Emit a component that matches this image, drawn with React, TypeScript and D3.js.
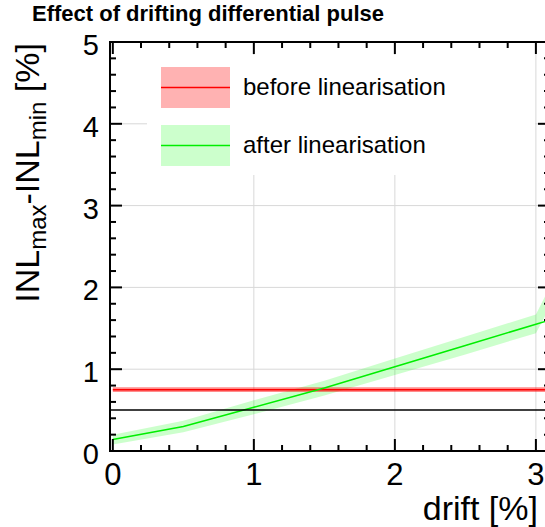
import * as d3 from "d3";

// drift [%] sample points
const drift = [0, 0.5, 1, 1.5, 2, 2.5, 3, 3.1];
// before linearisation (flat)
const beforeValues = [0.75, 0.75, 0.75, 0.75, 0.75, 0.75, 0.75, 0.75];
const beforeLow = [0.72, 0.72, 0.72, 0.72, 0.72, 0.72, 0.72, 0.72];
const beforeHigh = [0.78, 0.78, 0.78, 0.78, 0.78, 0.78, 0.78, 0.78];
// after linearisation
const afterValues = [0.14, 0.3, 0.535, 0.77, 1.03, 1.29, 1.55, 1.6];
const afterLow = [0.08, 0.23, 0.45, 0.68, 0.93, 1.18, 1.44, 1.76];
const afterHigh = [0.2, 0.37, 0.62, 0.86, 1.13, 1.4, 1.67, 2.01];
// reference level
const refLevel = 0.5;

const xTicks = [0, 1, 2, 3];
const yTicks = [0, 1, 2, 3, 4, 5];

const W = 545;
const H = 527;
const frame = { left: 110, right: 550, top: 42, bottom: 451 };
const font = "Liberation Sans, Arial, Helvetica, sans-serif";

const App = () => {
  const x = d3.scaleLinear().domain([-0.02, 3.1]).range([frame.left, frame.right]);
  const y = d3.scaleLinear().domain([0, 5]).range([frame.bottom, frame.top]);

  const band = (lo: number[], hi: number[]) =>
    d3
      .area<number>()
      .x((_, i) => x(drift[i]))
      .y0((_, i) => y(lo[i]))
      .y1((_, i) => y(hi[i]))(drift) ?? "";
  const line = (vals: number[]) =>
    d3
      .line<number>()
      .x((_, i) => x(drift[i]))
      .y((_, i) => y(vals[i]))(drift) ?? "";

  // minor ticks every 0.2
  const xMinor = d3.range(0, 3.11, 0.2).filter((v) => Math.abs(v - Math.round(v)) > 0.01);
  const yMinor = d3.range(0, 5.01, 0.2).filter((v) => Math.abs(v - Math.round(v)) > 0.01);

  return (
    <svg
      width={W}
      height={H}
      viewBox={`0 0 ${W} ${H}`}
      style={{ position: "absolute", left: 0, top: 0, background: "#fff" }}
      fontFamily={font}
    >
      <rect width={W} height={H} fill="#fff" />
      <text x={32} y={21} fontSize={22} fontWeight="bold" fill="#000">
        Effect of drifting differential pulse
      </text>

      {/* grid */}
      {xTicks.slice(1).map((t) => (
        <line key={"gx" + t} x1={x(t)} x2={x(t)} y1={frame.top} y2={frame.bottom} stroke="#d8d8d8" strokeWidth={1} />
      ))}
      {yTicks.slice(1, -1).map((t) => (
        <line key={"gy" + t} x1={frame.left} x2={frame.right} y1={y(t)} y2={y(t)} stroke="#d8d8d8" strokeWidth={1} />
      ))}

      {/* bands */}
      <path d={band(afterLow, afterHigh)} fill="#00ff00" fillOpacity={0.2} />
      <path d={band(beforeLow, beforeHigh)} fill="#ff0000" fillOpacity={0.45} />
      <path d={line(beforeValues)} fill="none" stroke="#ff0000" strokeWidth={1.5} />
      <path d={line(afterValues)} fill="none" stroke="#00ee00" strokeWidth={1.5} />
      <line x1={frame.left} x2={frame.right} y1={y(refLevel)} y2={y(refLevel)} stroke="#000" strokeWidth={1.5} />

      {/* legend */}
      <rect x={147} y={55} width={388} height={120} fill="#fff" />
      <rect x={161} y={67} width={69} height={41} fill="#ff0000" fillOpacity={0.3} />
      <line x1={161} x2={230} y1={87.5} y2={87.5} stroke="#ff0000" strokeWidth={1.5} />
      <text x={243} y={95} fontSize={24} fill="#000">before linearisation</text>
      <rect x={161} y={125} width={69} height={41} fill="#00ff00" fillOpacity={0.2} />
      <line x1={161} x2={230} y1={145.5} y2={145.5} stroke="#00ee00" strokeWidth={1.5} />
      <text x={243} y={153} fontSize={24} fill="#000">after linearisation</text>

      {/* frame */}
      <rect
        x={frame.left}
        y={frame.top}
        width={frame.right - frame.left}
        height={frame.bottom - frame.top}
        fill="none"
        stroke="#000"
        strokeWidth={2}
      />

      {/* x ticks */}
      {xTicks.map((t) => (
        <g key={"xt" + t}>
          <line x1={x(t)} x2={x(t)} y1={frame.bottom} y2={frame.bottom - 12} stroke="#000" strokeWidth={2} />
          <line x1={x(t)} x2={x(t)} y1={frame.top} y2={frame.top + 12} stroke="#000" strokeWidth={2} />
          <text x={x(t)} y={485} fontSize={31} textAnchor="middle" fill="#000">
            {t}
          </text>
        </g>
      ))}
      {xMinor.map((t) => (
        <g key={"xm" + t}>
          <line x1={x(t)} x2={x(t)} y1={frame.bottom} y2={frame.bottom - 6} stroke="#000" strokeWidth={2} />
          <line x1={x(t)} x2={x(t)} y1={frame.top} y2={frame.top + 6} stroke="#000" strokeWidth={2} />
        </g>
      ))}

      {/* y ticks */}
      {yTicks.map((t) => (
        <g key={"yt" + t}>
          <line x1={frame.left} x2={frame.left + 12} y1={y(t)} y2={y(t)} stroke="#000" strokeWidth={2} />
          <line x1={frame.right} x2={frame.right - 12} y1={y(t)} y2={y(t)} stroke="#000" strokeWidth={2} />
          <text x={99} y={y(t) + 13} fontSize={29} textAnchor="end" fill="#000">
            {t}
          </text>
        </g>
      ))}
      {yMinor.map((t) => (
        <g key={"ym" + t}>
          <line x1={frame.left} x2={frame.left + 6} y1={y(t)} y2={y(t)} stroke="#000" strokeWidth={2} />
          <line x1={frame.right} x2={frame.right - 6} y1={y(t)} y2={y(t)} stroke="#000" strokeWidth={2} />
        </g>
      ))}

      {/* axis titles */}
      <text x={538} y={520} fontSize={34} textAnchor="end" fill="#000">
        drift [%]
      </text>
      <text transform="translate(39,43) rotate(-90)" fontSize={34} textAnchor="end" fill="#000">
        INL
        <tspan fontSize={24} dy={7}>max</tspan>
        <tspan dy={-7}>-INL</tspan>
        <tspan fontSize={24} dy={7}>min</tspan>
        <tspan dy={-7}> [%]</tspan>
      </text>
    </svg>
  );
};

export default App;
